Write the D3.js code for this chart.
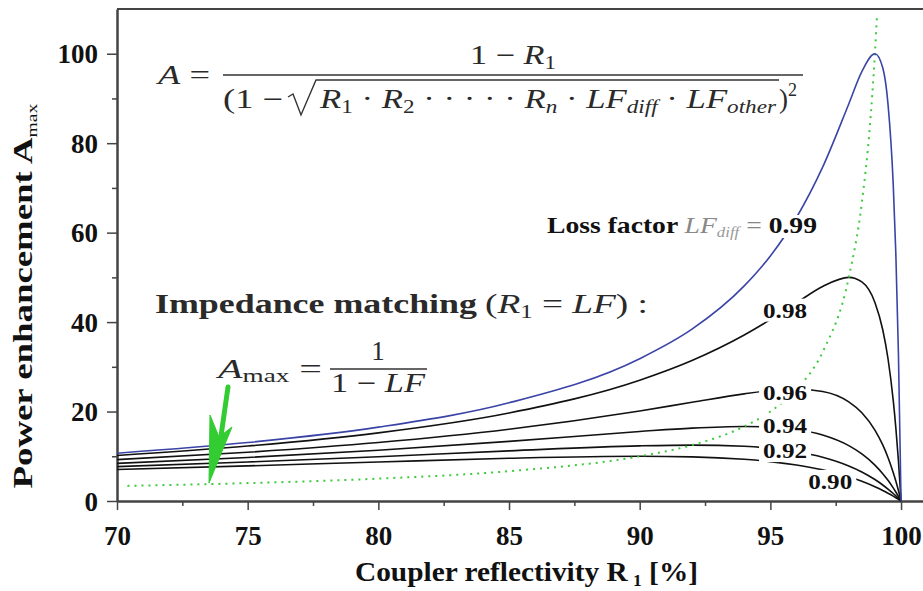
<!DOCTYPE html>
<html lang="en">
<head>
    <meta charset="UTF-8">
    <title>Power enhancement</title>
    <script src="https://cdnjs.cloudflare.com/ajax/libs/d3/7.8.5/d3.min.js"></script>
    <style type="text/css">
        body { margin: 0; background: #fff; }
        svg { display: block; }
    </style>
</head>
<body>
<div class="container"></div>
</body>
<script>
    // coupler reflectivity R1 [%] shared by every loss-factor curve
    const reflectivity = [70, 75, 80, 85, 90, 92, 94, 95, 96, 97, 98, 98.5, 99, 99.3, 99.5, 99.7, 99.8, 99.9, 100];
    const lossFactors = ['0.99', '0.98', '0.96', '0.94', '0.92', '0.90'];

    const enh099 = [10.69, 13.07, 16.51, 21.95, 31.81, 38.41, 48.10, 54.79, 63.39, 74.63, 88.77, 96.0, 100, 96.86, 88.8, 70.9, 55.4, 32.9, 0];
    const enh098 = [10.17, 12.28, 15.24, 19.68, 27.01, 31.41, 37.11, 40.54, 44.30, 47.96, 50, 48.98, 44.38, 38.29, 31.86, 22.54, 16.41, 8.99, 0];
    const enh096 = [9.24, 10.90, 13.08, 16.05, 20.13, 22.07, 23.95, 24.68, 25, 24.48, 22.15, 19.72, 15.85, 12.53, 9.74, 6.39, 4.46, 2.34, 0];
    const enh094 = [8.41, 9.72, 11.34, 13.32, 15.54, 16.30, 16.67, 16.52, 15.97, 14.74, 12.37, 10.52, 8.02, 6.10, 4.62, 2.94, 2.02, 1.04, 0];
    const enh092 = [7.69, 8.72, 9.91, 11.21, 12.33, 12.5, 12.23, 11.79, 11.03, 9.80, 7.85, 6.50, 4.80, 3.58, 2.67, 1.68, 1.15, 0.59, 0];
    const enh090 = [7.05, 7.85, 8.72, 9.55, 10, 9.87, 9.32, 8.81, 8.05, 6.96, 5.40, 4.39, 3.18, 2.34, 1.73, 1.08, 0.73, 0.37, 0];

    // impedance matching line (R1 = LF)
    const matchR = [70.4, 75, 80, 85, 90, 92, 94, 95, 96, 97, 98, 98.5, 98.8, 99, 99.08];
    const matchA = [3.38, 4, 5, 6.67, 10, 12.5, 16.67, 20, 25, 33.3, 50, 66.7, 83.3, 100, 108.7];

    const xTicks = [70, 75, 80, 85, 90, 95, 100];
    const xMinor = [72.5, 77.5, 82.5, 87.5, 92.5, 97.5];
    const yTicks = [0, 20, 40, 60, 80, 100];
    const yMinor = [10, 30, 50, 70, 90];

    const series = [enh099, enh098, enh096, enh094, enh092, enh090];

    const W = 923, H = 591;
    const svg = d3.select('.container')
        .append('svg')
        .attr('width', W)
        .attr('height', H);

    const x = d3.scaleLinear().domain([70, 100.84]).range([117, 923]);
    const y = d3.scaleLinear().domain([0, 110]).range([501, 9]);

    const serif = '"Liberation Serif", "Times New Roman", serif';
    const axisColor = '#444';

    // --- axes

    const styleAxis = (g) => {
        g.select('.domain').attr('stroke', axisColor).attr('stroke-width', 2);
        g.selectAll('.tick line').attr('stroke', axisColor).attr('stroke-width', 1.5);
        g.selectAll('.tick text')
            .attr('font-family', serif)
            .attr('font-weight', 'bold')
            .attr('font-size', 27)
            .attr('fill', '#111');
    };

    svg.append('g')
        .attr('transform', 'translate(0,501)')
        .call(d3.axisBottom(x).tickValues(xMinor).tickSize(5).tickSizeOuter(0).tickFormat(''))
        .call(styleAxis);

    const xAxis = svg.append('g')
        .attr('transform', 'translate(0,501)')
        .call(d3.axisBottom(x).tickValues(xTicks).tickSize(9).tickSizeOuter(0).tickFormat(d3.format('d')))
        .call(styleAxis);
    xAxis.selectAll('.tick text').attr('y', 44).attr('dy', 0);

    svg.append('g')
        .attr('transform', 'translate(117,0)')
        .call(d3.axisLeft(y).tickValues(yMinor).tickSize(5).tickSizeOuter(0).tickFormat(''))
        .call(styleAxis);

    const yAxis = svg.append('g')
        .attr('transform', 'translate(117,0)')
        .call(d3.axisLeft(y).tickValues(yTicks).tickSize(10).tickSizeOuter(0).tickFormat(d3.format('d')))
        .call(styleAxis);
    yAxis.selectAll('.tick text').attr('x', -19).attr('dy', '0.34em');

    // top frame line
    svg.append('line')
        .attr('x1', x(70)).attr('x2', W)
        .attr('y1', y(110)).attr('y2', y(110))
        .attr('stroke', axisColor)
        .attr('stroke-width', 2);

    // axis titles
    const xTitle = svg.append('text')
        .attr('x', 355)
        .attr('y', 581)
        .attr('font-family', serif)
        .attr('font-weight', 'bold')
        .attr('font-size', 27)
        .attr('fill', '#111')
        .attr('textLength', 343)
        .attr('lengthAdjust', 'spacingAndGlyphs');
    xTitle.append('tspan').text('Coupler reflectivity R');
    xTitle.append('tspan').attr('dx', 5).attr('dy', 5).attr('font-size', 16).text('1');
    xTitle.append('tspan').attr('dy', -5).text(' [%]');

    const yTitle = svg.append('text')
        .attr('transform', 'translate(32,296) rotate(-90)')
        .attr('text-anchor', 'middle')
        .attr('font-family', serif)
        .attr('font-weight', 'bold')
        .attr('font-size', 28)
        .attr('fill', '#111')
        .attr('textLength', 385)
        .attr('lengthAdjust', 'spacingAndGlyphs');
    yTitle.append('tspan').text('Power enhancement A');
    yTitle.append('tspan').attr('dy', 5).attr('font-size', 15).attr('font-weight', 'normal').text('max');

    // --- curves

    const line = d3.line()
        .x(d => x(d[0]))
        .y(d => y(d[1]))
        .curve(d3.curveMonotoneX);

    const curves = svg.append('g');

    curves.selectAll('path.lf')
        .data(series.slice(1))
        .enter()
        .append('path')
        .attr('class', 'lf')
        .attr('fill', 'none')
        .attr('stroke', '#111')
        .attr('stroke-width', 1.6)
        .attr('d', s => line(reflectivity.map((r, i) => [r, s[i]])));

    curves.append('path')
        .attr('fill', 'none')
        .attr('stroke', '#3dca3d')
        .attr('stroke-width', 2)
        .attr('stroke-dasharray', '2,5')
        .attr('d', line(matchR.map((r, i) => [r, matchA[i]])));

    curves.append('path')
        .attr('fill', 'none')
        .attr('stroke', '#3a44a6')
        .attr('stroke-width', 1.6)
        .attr('d', line(reflectivity.map((r, i) => [r, enh099[i]])));

    // --- curve labels with white boxes that cut the lines

    const labels = svg.append('g');

    function boxed(t, padX, padY) {
        const b = t.node().getBBox();
        labels.insert('rect', () => t.node())
            .attr('x', b.x - padX)
            .attr('y', b.y + padY)
            .attr('width', b.width + 2 * padX)
            .attr('height', b.height - 2 * padY)
            .attr('fill', '#fff');
    }

    const labelAt = [[94.72, 41.0], [94.72, 22.6], [94.72, 15.3], [94.72, 9.6], [96.45, 2.7]];
    lossFactors.slice(1).forEach((lf, i) => {
        const t = labels.append('text')
            .attr('x', x(labelAt[i][0]))
            .attr('y', y(labelAt[i][1]))
            .attr('font-family', serif)
            .attr('font-weight', 'bold')
            .attr('font-size', 22)
            .attr('fill', '#111')
            .attr('textLength', 44)
            .attr('lengthAdjust', 'spacingAndGlyphs')
            .text(lf);
        boxed(t, 4, 1);
    });

    const lossLabel = labels.append('text')
        .attr('x', 547)
        .attr('y', 233)
        .attr('font-family', serif)
        .attr('font-size', 23)
        .attr('textLength', 270)
        .attr('lengthAdjust', 'spacingAndGlyphs');
    lossLabel.append('tspan').attr('font-weight', 'bold').attr('fill', '#111').text('Loss factor ');
    lossLabel.append('tspan').attr('font-style', 'italic').attr('fill', '#888').text('LF');
    lossLabel.append('tspan').attr('font-style', 'italic').attr('fill', '#999').attr('font-size', 14).attr('dy', 4).text('diff');
    lossLabel.append('tspan').attr('fill', '#888').attr('dy', -4).text(' = ');
    lossLabel.append('tspan').attr('font-weight', 'bold').attr('fill', '#111').text(lossFactors[0]);
    boxed(lossLabel, 4, 2);

    // --- formulas

    const math = svg.append('g')
        .attr('font-family', serif)
        .attr('fill', '#2a2a2a');

    const aEq = math.append('text').attr('x', 158).attr('y', 84).attr('font-size', 27)
        .attr('textLength', 52).attr('lengthAdjust', 'spacingAndGlyphs');
    aEq.append('tspan').attr('font-style', 'italic').text('A');
    aEq.append('tspan').text(' =');

    const num = math.append('text').attr('x', 470).attr('y', 64).attr('font-size', 27)
        .attr('textLength', 86).attr('lengthAdjust', 'spacingAndGlyphs');
    num.append('tspan').text('1 \u2212 ');
    num.append('tspan').attr('font-style', 'italic').text('R');
    num.append('tspan').attr('font-size', 18).attr('dy', 5).text('1');

    math.append('line')
        .attr('x1', 223).attr('x2', 803)
        .attr('y1', 75).attr('y2', 75)
        .attr('stroke', '#333').attr('stroke-width', 1.4);

    math.append('text').attr('x', 223).attr('y', 108).attr('font-size', 27)
        .attr('textLength', 60).attr('lengthAdjust', 'spacingAndGlyphs')
        .text('(1 \u2212');

    math.append('path')
        .attr('d', 'M288,97 L293,94 L301,115 L316,80 H779')
        .attr('fill', 'none')
        .attr('stroke', '#333')
        .attr('stroke-width', 1.4);

    const rad = math.append('text').attr('x', 320).attr('y', 108).attr('font-size', 27)
        .attr('textLength', 456).attr('lengthAdjust', 'spacingAndGlyphs');
    const radParts = [
        ['R', ''], ['1', 'sub'], [' \u00b7 ', 'op'], ['R', ''], ['2', 'sub'],
        [' \u00b7 \u00b7 \u00b7 \u00b7 \u00b7 ', 'op'], ['R', ''], ['n', 'subi'],
        [' \u00b7 ', 'op'], ['LF', ''], ['diff', 'subi'], [' \u00b7 ', 'op'], ['LF', ''], ['other', 'subi']
    ];
    let lowered = false;
    radParts.forEach(([s, kind]) => {
        const ts = rad.append('tspan').text(s);
        if (kind === 'sub' || kind === 'subi') {
            ts.attr('font-size', 18).attr('dy', lowered ? 0 : 5);
            if (kind === 'subi') ts.attr('font-style', 'italic');
            lowered = true;
        } else {
            if (kind === '') ts.attr('font-style', 'italic');
            if (lowered) ts.attr('dy', -5);
            lowered = false;
        }
    });

    const close = math.append('text').attr('x', 779).attr('y', 108).attr('font-size', 27);
    close.append('tspan').text(')');
    close.append('tspan').attr('font-size', 18).attr('dy', -12).text('2');

    // impedance matching block
    math.append('text').attr('x', 155).attr('y', 313)
        .attr('font-size', 27).attr('font-weight', 'bold')
        .attr('textLength', 322).attr('lengthAdjust', 'spacingAndGlyphs')
        .text('Impedance matching');

    const cond = math.append('text').attr('x', 485).attr('y', 313).attr('font-size', 27)
        .attr('textLength', 163).attr('lengthAdjust', 'spacingAndGlyphs');
    cond.append('tspan').text('(');
    cond.append('tspan').attr('font-style', 'italic').text('R');
    cond.append('tspan').attr('font-size', 18).attr('dy', 5).text('1');
    cond.append('tspan').attr('dy', -5).text(' = ');
    cond.append('tspan').attr('font-style', 'italic').text('LF');
    cond.append('tspan').text(') :');

    const amax = math.append('text').attr('x', 218).attr('y', 378).attr('font-size', 28)
        .attr('textLength', 104).attr('lengthAdjust', 'spacingAndGlyphs');
    amax.append('tspan').attr('font-style', 'italic').text('A');
    amax.append('tspan').attr('font-size', 19).attr('dy', 4).text('max');
    amax.append('tspan').attr('dy', -4).text(' =');

    math.append('line')
        .attr('x1', 330).attr('x2', 427)
        .attr('y1', 369).attr('y2', 369)
        .attr('stroke', '#333').attr('stroke-width', 1.4);

    math.append('text').attr('x', 378).attr('y', 360).attr('font-size', 27)
        .attr('text-anchor', 'middle').text('1');

    const den = math.append('text').attr('x', 331).attr('y', 392).attr('font-size', 27)
        .attr('textLength', 94).attr('lengthAdjust', 'spacingAndGlyphs');
    den.append('tspan').text('1 \u2212 ');
    den.append('tspan').attr('font-style', 'italic').text('LF');

    // --- green arrow pointing at the matching line
    const arrow = svg.append('g').attr('fill', '#33cc33').attr('stroke', '#33cc33');
    arrow.append('line')
        .attr('x1', 228).attr('y1', 387)
        .attr('x2', 221).attr('y2', 436)
        .attr('stroke-width', 5)
        .attr('stroke-linecap', 'round');
    arrow.append('path')
        .attr('stroke-width', 1)
        .attr('d', 'M209,483 L210,415 L219,437 L232,427 Z');
</script>
</html>
